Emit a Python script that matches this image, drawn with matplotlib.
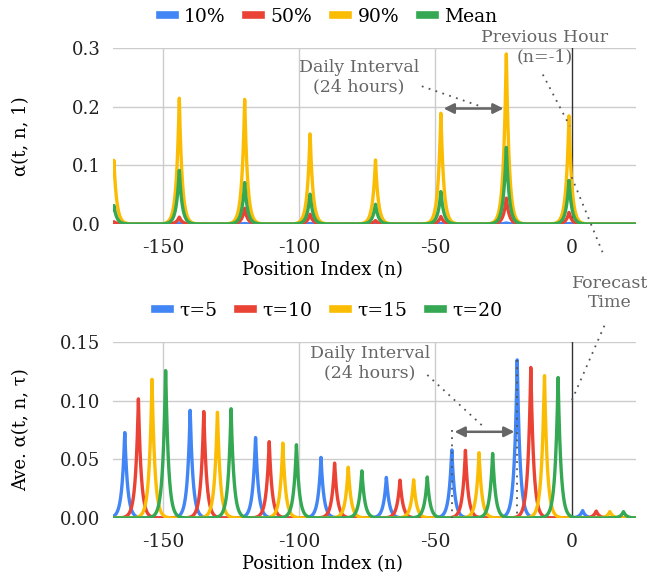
import numpy as np
import matplotlib
matplotlib.use("Agg")
import matplotlib.pyplot as plt
from matplotlib.lines import Line2D

plt.rcParams['font.family'] = ['DejaVu Serif']

# ---------------- data ----------------
# top panel: peaks of alpha(t, n, 1)
top_peak_n = [-168, -144, -120, -96, -72, -48, -24, -1]
q10 = [0.001, 0.002, 0.001, 0.001, 0.001, 0.001, 0.002, 0.001]
q50 = [0.004, 0.012, 0.027, 0.017, 0.006, 0.013, 0.045, 0.020]
q90 = [0.110, 0.218, 0.213, 0.157, 0.110, 0.191, 0.295, 0.186]
qmean = [0.032, 0.093, 0.071, 0.052, 0.034, 0.056, 0.133, 0.075]
top_labels = ['10%', '50%', '90%', 'Mean']

# bottom panel: peaks of Ave. alpha(t, n, tau)
bot_peak_n = {
    5:  [-164, -140, -116, -92, -68, -44, -20, 4],
    10: [-159, -135, -111, -87, -63, -39, -15, 9],
    15: [-154, -130, -106, -82, -58, -34, -10, 14],
    20: [-149, -125, -101, -77, -53, -29, -5, 19],
}
tau5 = [0.074, 0.092, 0.070, 0.052, 0.035, 0.059, 0.135, 0.0065]
tau10 = [0.102, 0.092, 0.066, 0.047, 0.033, 0.058, 0.130, 0.006]
tau15 = [0.119, 0.092, 0.064, 0.044, 0.033, 0.056, 0.124, 0.0055]
tau20 = [0.128, 0.094, 0.063, 0.041, 0.035, 0.056, 0.121, 0.0055]
bot_labels = ['τ=5', 'τ=10', 'τ=15', 'τ=20']

colors = ['#4285F4', '#EA4335', '#FBBC04', '#34A853']

XMIN, XMAX = -168.3, 23.5
x = np.linspace(XMIN, XMAX, 4000)
SHAPE = 1.05  # smoothing width of each spike (line style)


def spikes(pos, heights):
    y = np.zeros_like(x)
    for p, h in zip(pos, heights):
        y = np.maximum(y, h * np.exp(-np.abs(x - p) / SHAPE))
    return y


fig = plt.figure(figsize=(6.65, 5.73), dpi=100)
ax1 = fig.add_axes([0.170, 0.609, 0.786, 0.307])
ax2 = fig.add_axes([0.170, 0.096, 0.786, 0.307])

grid_c = '#cccccc'
tick_c = '#222222'
ann_c = '#666666'
dot_c = '#555555'

for ax in (ax1, ax2):
    for s in ax.spines.values():
        s.set_visible(False)
    ax.set_xlim(XMIN, XMAX)
    ax.set_xticks([-150, -100, -50, 0])
    ax.set_xticklabels(['-150', '-100', '-50', '0'])
    ax.tick_params(length=0, labelsize=13.5, colors=tick_c)
    ax.tick_params(axis='x', pad=11)
    ax.tick_params(axis='y', pad=9, labelsize=13)
    for v in [-150, -100, -50]:
        ax.axvline(v, color=grid_c, lw=1, zorder=0)
    ax.set_xlabel('Position Index (n)', fontsize=13)
    ax.xaxis.set_label_coords(0.40, -0.212)
    ax.yaxis.set_label_coords(-0.158, 0.5)

# ---- top ----
for vals, c, lab in zip([q10, q50, q90, qmean], colors, top_labels):
    ax1.plot(x, spikes(top_peak_n, vals), color=c, lw=2.4, label=lab, zorder=3)
ax1.set_ylim(0, 0.3)
ax1.set_yticks([0.0, 0.1, 0.2, 0.3])
ax1.set_yticklabels(['0.0', '0.1', '0.2', '0.3'])
for v in [0.1, 0.2, 0.3]:
    ax1.axhline(v, color=grid_c, lw=1, zorder=0)
ax1.axvline(0, color='#333333', lw=1, zorder=2)
ax1.set_ylabel('α(t, n, 1)', fontsize=13)

# ---- bottom ----
for tau, vals, c, lab in zip([5, 10, 15, 20], [tau5, tau10, tau15, tau20], colors, bot_labels):
    ax2.plot(x, spikes(bot_peak_n[tau], vals), color=c, lw=2.4, label=lab, zorder=3)
ax2.set_ylim(0, 0.15)
ax2.set_yticks([0.0, 0.05, 0.10, 0.15])
ax2.set_yticklabels(['0.00', '0.05', '0.10', '0.15'])
for v in [0.05, 0.10, 0.15]:
    ax2.axhline(v, color=grid_c, lw=1, zorder=0)
ax2.axvline(0, color='#333333', lw=1, zorder=2)
ax2.set_ylabel('Ave. α(t, n, τ)', fontsize=13)

# legends
def leg(ax, y):
    h, l = ax.get_legend_handles_labels()
    hh = [Line2D([], [], color=c, lw=5.5) for c in colors]
    ax.legend(hh, l, loc='lower center', bbox_to_anchor=(0.412, y), ncol=4,
              frameon=False, fontsize=13.5, handlelength=0.8, handletextpad=0.5,
              columnspacing=1.1, borderaxespad=0)

leg(ax1, 1.085)
leg(ax2, 1.085)

# ---- annotations top ----
dotkw = dict(color=dot_c, lw=1.3, ls=(0, (1, 3)), clip_on=False, zorder=5)
arrowkw = dict(arrowstyle='<|-|>', color='#666666', lw=1.8, mutation_scale=15)
ax1.annotate('', xy=(-24, 0.197), xytext=(-48, 0.197), arrowprops=arrowkw, zorder=6)
ax1.text(-78, 0.251, 'Daily Interval\n(24 hours)', ha='center', va='center',
         fontsize=12.5, color=ann_c, linespacing=1.2)
ax1.plot([-55, -33], [0.235, 0.200], **dotkw)
ax1.text(-10, 0.302, 'Previous Hour\n(n=-1)', ha='center', va='center',
         fontsize=12.5, color=ann_c, linespacing=1.2, clip_on=False)
ax1.plot([-10.6, -0.7], [0.255, 0.167], **dotkw)
ax1.plot([0, 11.3], [0.08, -0.048], **dotkw)

# ---- annotations bottom ----
ax2.annotate('', xy=(-20, 0.0735), xytext=(-44, 0.0735), arrowprops=arrowkw, zorder=6)
ax2.text(-74, 0.132, 'Daily Interval\n(24 hours)', ha='center', va='center',
         fontsize=12.5, color=ann_c, linespacing=1.2)
ax2.plot([-53, -32], [0.122, 0.077], **dotkw)
ax2.plot([-44, -44], [0.075, 0.0], **dotkw)
ax2.plot([-20, -20], [0.135, 0.0], **dotkw)
ax2.plot([12, 0], [0.164, 0.10], **dotkw)
ax2.text(14, 0.192, 'Forecast\nTime', ha='center', va='center',
         fontsize=12.5, color=ann_c, linespacing=1.2, clip_on=False)

fig.savefig('out.png', dpi=100)
